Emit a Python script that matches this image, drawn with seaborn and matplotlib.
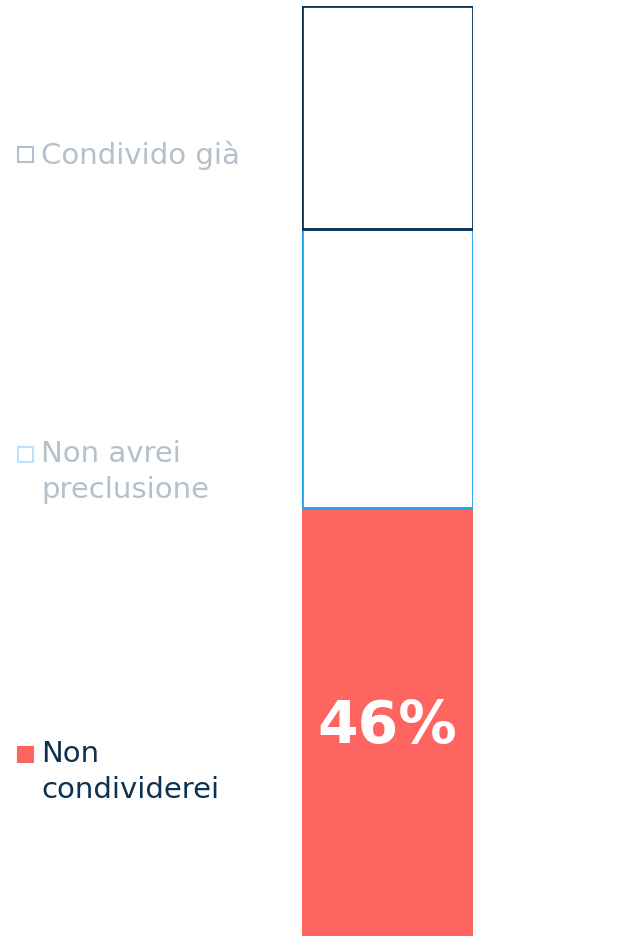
import matplotlib
matplotlib.use("Agg")
import matplotlib.pyplot as plt
import seaborn as sns
import pandas as pd
from matplotlib.patches import Rectangle

# Data
categories = ["Non condividerei", "Non avrei preclusione", "Condivido già"]
values = [46, 30, 24]
legend_labels = ["Non\ncondividerei", "Non avrei\npreclusione", "Condivido già"]
value_labels = ["46%", "", ""]

face_colors = ["#ff6560", "none", "none"]
edge_colors = ["#ff6560", "#1aa7f0", "#0d3151"]
marker_face = ["#ff6560", "none", "none"]
marker_edge = ["#ff6560", "#b9e4fb", "#b4c0cc"]
text_colors = ["#0d3151", "#b4c0cc", "#b4c0cc"]

sns.set_theme(style="white")
plt.rcParams['font.family'] = ['DejaVu Sans']

W, H = 621, 936
fig = plt.figure(figsize=(W / 100, H / 100), dpi=100)
ax = fig.add_axes([302 / W, 0, (473 - 302) / W, (H - 6) / H])

bottom = 0
for cat, v, fc, ec, lab in zip(categories, values, face_colors, edge_colors, value_labels):
    d = pd.DataFrame({"x": ["bar"], "v": [v]})
    sns.barplot(data=d, x="x", y="v", ax=ax, bottom=bottom, width=1.0,
                color="white" if fc == "none" else fc, saturation=1,
                edgecolor=ec, linewidth=2, errorbar=None,
                zorder=2 if fc == "none" else 1)
    if fc == "none":
        ax.patches[-1].set_facecolor("none")
    if lab:
        ax.text(0, bottom + v / 2 - 0.5, lab, ha="center", va="center",
                color="white", fontsize=42, fontweight="bold")
    bottom += v

ax.set_xlim(-0.5, 0.5)
ax.set_ylim(0, sum(values))
ax.set_axis_off()

# Legend (manual)
first_line_y = [754, 454, 154]
for lab, y, mf, me, tc in zip(legend_labels, first_line_y, marker_face, marker_edge, text_colors):
    sq = 15
    rect = Rectangle((18 / W, (H - y - sq / 2) / H), sq / W, sq / H,
                     transform=fig.transFigure, facecolor=mf, edgecolor=me,
                     linewidth=1.5)
    fig.patches.append(rect)
    fig.text(41 / W, (H - y + 14) / H, lab, ha="left", va="top",
             color=tc, fontsize=21, linespacing=1.36)

fig.savefig("out.png", dpi=100)
